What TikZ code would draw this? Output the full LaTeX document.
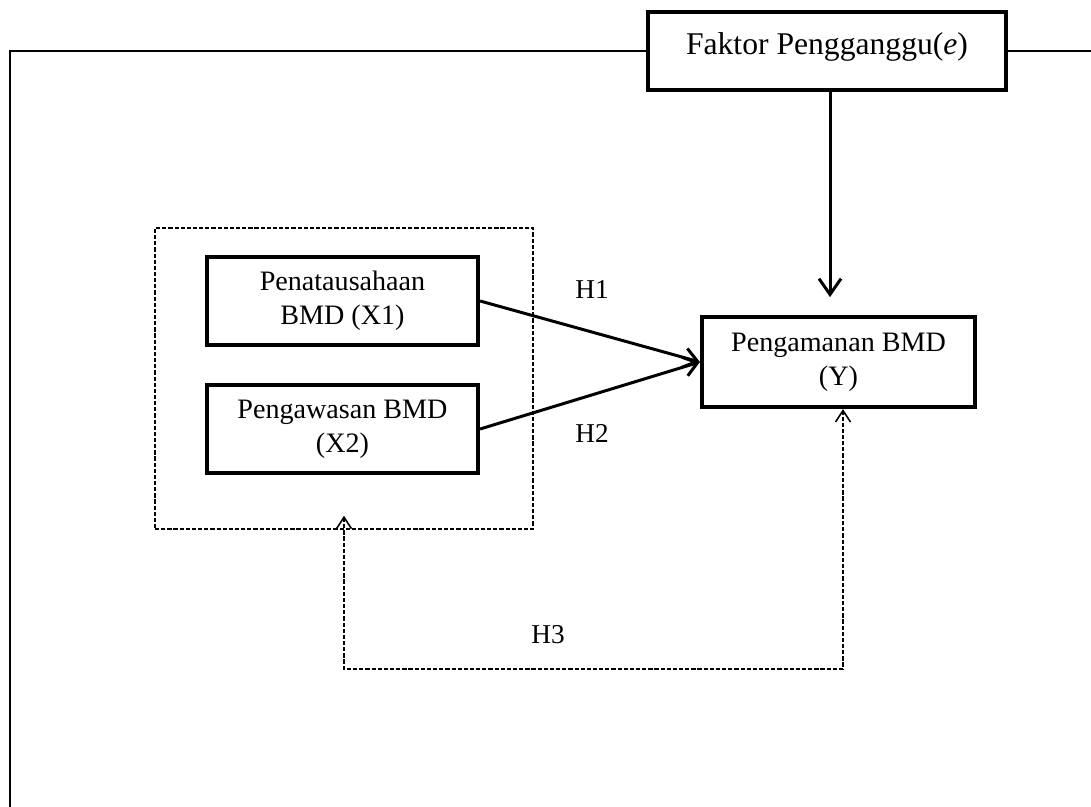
\documentclass[tikz,border=0pt]{standalone}
\usepackage{fontspec}
\setmainfont{Liberation Serif}
\usetikzlibrary{arrows.meta}

\begin{document}
\begin{tikzpicture}[x=0.02cm, y=-0.02cm]
  %
  \tikzstyle{var} = [draw=black, line width=2.4pt, minimum width=5.42cm, minimum height=1.76cm, align=center, inner sep=1pt, font=\fontsize{16}{19.5}\selectfont]
  \tikzstyle{grp} = [draw=black, dash pattern=on 2.4pt off 1.1pt, line width=0.9pt, minimum width=7.56cm, minimum height=6.02cm]
  \tikzstyle{hyp} = [font=\fontsize{15.5}{18}\selectfont]
  \tikzstyle{effect} = [line width=1.7pt, -{Straight Barb[length=7.5pt, width=11pt]}]
  \tikzstyle{back} = [line width=0.9pt, dash pattern=on 2.4pt off 1.1pt, {Straight Barb[length=6.5pt, width=8.5pt]}-{Straight Barb[length=6.5pt, width=8.5pt]}]
  \useasboundingbox (0,0) rectangle (1091,807);
  \node[grp] (group) at (344,378.5) {};
  \node[var] (x1) at (342.5,301) {Penatausahaan\\BMD (X1)};
  \node[var] (x2) at (342.5,429) {Pengawasan BMD\\(X2)};
  \node[var, minimum width=5.46cm, minimum height=1.8cm] (y) at (838.5,362) {Pengamanan BMD\\(Y)};
  \node[var, minimum width=7.16cm, minimum height=1.56cm, text depth=9pt, font=\fontsize{18}{22}\selectfont] (e) at (827,51) {Faktor Pengganggu(\textit{e})};
  \draw[line width=1.7pt] (e.west) -- (10,51) -- (10,807);
  \draw[line width=1.2pt] (e.east) -- (1091,51);
  \draw[line width=1.7pt, -{Straight Barb[length=9pt, width=12.5pt]}] ([xshift=0.06cm]e.south) -- ++(0,205);
  \draw[effect] (x1.east) -- (y.west);
  \draw[effect] (x2.east) -- (y.west);
  \draw[back] ([yshift=0.28cm]group.south) -- ++(0,153) -| ([xshift=0.09cm]y.south);
  \node[hyp] (h1) at (592,290) {H1};
  \node[hyp] (h2) at (592,433) {H2};
  \node[hyp] (h3) at (548,635) {H3};
\end{tikzpicture}
\end{document}
